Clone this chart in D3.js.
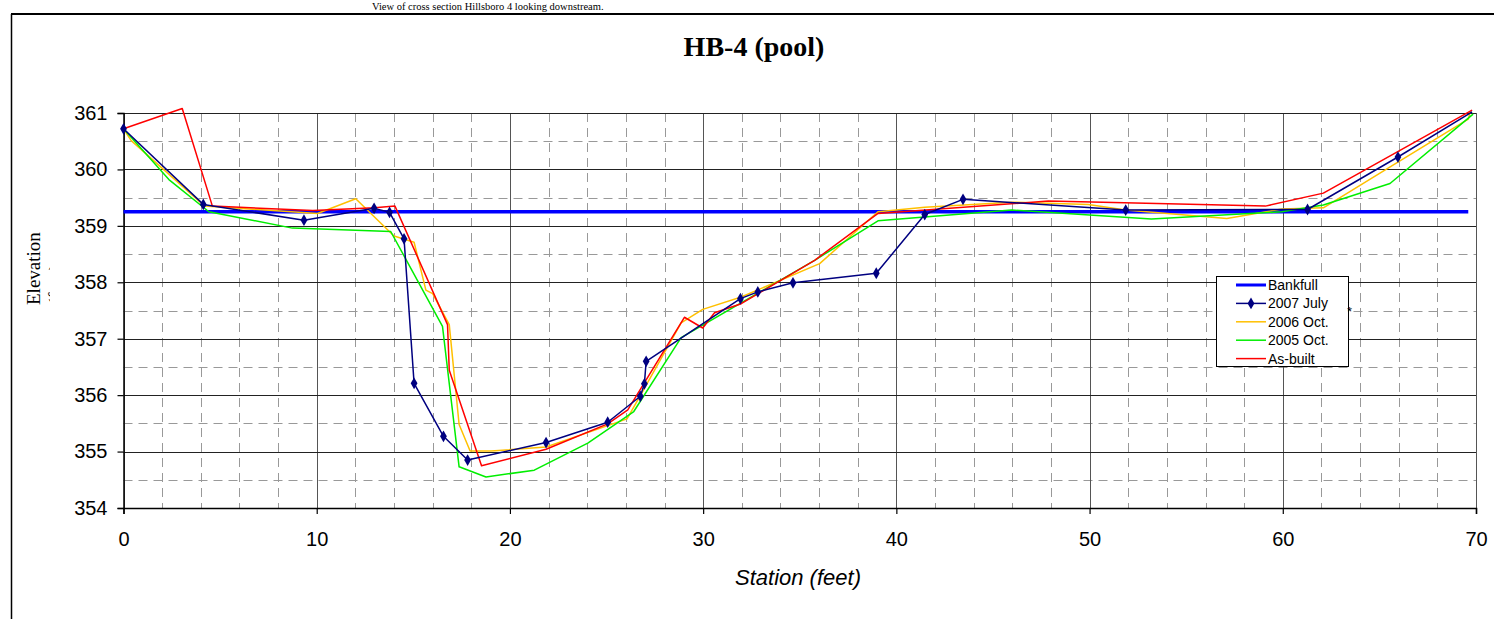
<!DOCTYPE html>
<html><head><meta charset="utf-8">
<script src="https://cdn.jsdelivr.net/npm/d3@7"></script>
<style>body{margin:0;background:#fff;}svg{display:block;}</style>
</head><body>
<script>
// ---- data ----
const title = "HB-4 (pool)";
const caption = "View of cross section Hillsboro 4 looking downstream.";
const xLabel = "Station (feet)";
const yLabel1 = "Elevation";
const yLabel2 = "(feet)";
const xTicks = [0, 10, 20, 30, 40, 50, 60, 70];
const yTicks = [354, 355, 356, 357, 358, 359, 360, 361];
const seriesNames = ["Bankfull", "2007 July", "2006 Oct.", "2005 Oct.", "As-built"];

const bankfull = [[0, 359.25], [69.6, 359.25]];
const july2007 = [
  [0, 360.72], [4.13, 359.38], [9.34, 359.10], [12.97, 359.31], [13.77, 359.24],
  [14.52, 358.77], [15.04, 356.21], [16.56, 355.27], [17.81, 354.85], [21.87, 355.16],
  [25.06, 355.52], [26.75, 355.98], [26.96, 356.20], [27.05, 356.60], [31.93, 357.71],
  [32.83, 357.83], [34.65, 357.99], [38.96, 358.16], [41.47, 359.20], [43.45, 359.47],
  [51.87, 359.28], [61.28, 359.29], [65.96, 360.22], [69.8, 361.02]
];
const oct2006 = [
  [0, 360.72], [0.4, 360.51], [4.2, 359.35], [10.04, 359.22], [12.02, 359.48],
  [14.0, 358.82], [15.04, 358.71], [15.65, 357.86], [16.0, 357.80], [16.86, 357.25],
  [17.37, 355.48], [17.94, 355.01], [19.02, 355.01], [21.87, 355.08], [25.06, 355.46],
  [26.06, 355.58], [26.79, 356.02], [28.86, 357.28], [29.98, 357.52], [31.97, 357.74],
  [36.03, 358.33], [39.05, 359.25], [41.47, 359.33], [45.96, 359.42], [49.93, 359.38],
  [51.87, 359.28], [57.1, 359.13], [59.95, 359.30], [62.1, 359.32], [66.0, 360.14],
  [69.6, 360.89], [69.7, 361.02]
];
const oct2005 = [
  [0, 360.72], [2.35, 359.82], [4.42, 359.25], [8.74, 358.96], [13.83, 358.90],
  [16.51, 357.22], [17.37, 354.73], [18.76, 354.55], [21.26, 354.67], [24.03, 355.15],
  [26.41, 355.71], [28.86, 357.02], [35.77, 358.39], [39.05, 359.09], [45.96, 359.28],
  [53.2, 359.12], [59.95, 359.25], [62.1, 359.37], [65.55, 359.75], [69.85, 360.98]
];
const asBuilt = [
  [0, 360.72], [3.04, 361.08], [4.6, 359.35], [9.8, 359.27], [13.0, 359.32],
  [14.05, 359.35], [16.77, 357.25], [16.86, 356.44], [18.53, 354.75], [21.87, 355.04],
  [25.06, 355.49], [26.1, 355.74], [29.03, 357.38], [29.98, 357.19], [30.59, 357.46],
  [31.97, 357.62], [35.77, 358.39], [39.05, 359.22], [47.86, 359.44], [59.1, 359.35],
  [62.1, 359.58], [69.8, 361.05]
];

// ---- layout ----
const W = 1494, H = 619;
const svg = d3.select("body").append("svg").attr("width", W).attr("height", H);

const x = d3.scaleLinear().domain([0, 70]).range([123.5, 1476]);
const y = d3.scaleLinear().domain([354, 361]).range([508, 113]);

// caption
svg.append("text").attr("x", 372).attr("y", 10)
  .attr("font-family", "Liberation Serif, Times New Roman, serif").attr("font-size", 10.5)
  .attr("fill", "#000").text(caption);

// outer frame
svg.append("line").attr("x1", 11).attr("x2", W).attr("y1", 14).attr("y2", 14)
  .attr("stroke", "#000").attr("stroke-width", 2);
svg.append("line").attr("x1", 11.5).attr("x2", 11.5).attr("y1", 14).attr("y2", H)
  .attr("stroke", "#000").attr("stroke-width", 1.5);

// title
svg.append("text").attr("x", 754).attr("y", 56).attr("text-anchor", "middle")
  .attr("font-family", "Liberation Serif, Times New Roman, serif").attr("font-weight", "bold")
  .attr("font-size", 28).text(title);

// grid: minor dashed
const g = svg.append("g");
const minorX = d3.range(2, 70, 2).filter(v => v % 10 !== 0);
const minorY = d3.range(354.5, 361, 1);
g.selectAll(".mx").data(minorX).join("line")
  .attr("x1", d => Math.round(x(d)) + 0.5).attr("x2", d => Math.round(x(d)) + 0.5)
  .attr("y1", y(361)).attr("y2", y(354))
  .attr("stroke", "#999").attr("stroke-width", 1).attr("stroke-dasharray", "9,6");
g.selectAll(".my").data(minorY).join("line")
  .attr("x1", x(0)).attr("x2", x(70))
  .attr("y1", d => Math.round(y(d)) + 0.5).attr("y2", d => Math.round(y(d)) + 0.5)
  .attr("stroke", "#999").attr("stroke-width", 1).attr("stroke-dasharray", "9,6");
// grid: major solid
g.selectAll(".Mx").data(xTicks).join("line")
  .attr("x1", d => Math.round(x(d)) + 0.5).attr("x2", d => Math.round(x(d)) + 0.5)
  .attr("y1", y(361)).attr("y2", y(354))
  .attr("stroke", "#555").attr("stroke-width", 1);
g.selectAll(".My").data(yTicks).join("line")
  .attr("x1", x(0)).attr("x2", x(70))
  .attr("y1", d => Math.round(y(d)) + 0.5).attr("y2", d => Math.round(y(d)) + 0.5)
  .attr("stroke", "#222").attr("stroke-width", 1);

// axes
const xAxis = d3.axisBottom(x).tickValues(xTicks).tickSize(6).tickPadding(18).tickFormat(d3.format("d"));
const yAxis = d3.axisLeft(y).tickValues(yTicks).tickSize(6).tickPadding(10).tickFormat(d3.format("d"));
const xa = svg.append("g").attr("transform", `translate(0,${y(354)})`).call(xAxis);
const ya = svg.append("g").attr("transform", `translate(${x(0)},0)`).call(yAxis);
[xa, ya].forEach(a => {
  a.select(".domain").attr("stroke", "#000").attr("stroke-width", 1.5);
  a.selectAll(".tick line").attr("stroke", "#000").attr("stroke-width", 1.2);
  a.selectAll("text").attr("font-family", "Liberation Sans, Arial, sans-serif")
    .attr("font-size", 20).attr("fill", "#000");
});

// axis labels
svg.append("text").attr("x", 798).attr("y", 585).attr("text-anchor", "middle")
  .attr("font-family", "Liberation Sans, Arial, sans-serif").attr("font-style", "italic")
  .attr("font-size", 22).text(xLabel);
svg.append("defs").append("clipPath").attr("id", "ylc")
  .append("rect").attr("x", 0).attr("y", 0).attr("width", 50).attr("height", H);
const yl = svg.append("g").attr("clip-path", "url(#ylc)");
yl.append("text").attr("transform", "translate(40,305) rotate(-90)").attr("text-anchor", "start")
  .attr("font-family", "Liberation Serif, Times New Roman, serif").attr("font-size", 19).text(yLabel1);
yl.append("text").attr("transform", "translate(62,305) rotate(-90)").attr("text-anchor", "start")
  .attr("font-family", "Liberation Serif, Times New Roman, serif").attr("font-size", 19).text(yLabel2);

// series
const line = d3.line().x(d => x(d[0])).y(d => y(d[1]));
const series = [
  { name: seriesNames[0], data: bankfull, color: "#0000FF", width: 3.5, marker: false },
  { name: seriesNames[1], data: july2007, color: "#000080", width: 1.5, marker: true },
  { name: seriesNames[2], data: oct2006, color: "#FFC000", width: 1.5, marker: false },
  { name: seriesNames[3], data: oct2005, color: "#00EE00", width: 1.5, marker: false },
  { name: seriesNames[4], data: asBuilt, color: "#FF0000", width: 1.5, marker: false }
];
const diamond = d3.symbol().type(d3.symbolDiamond).size(40);
const drawOrder = [0, 2, 3, 4, 1];
drawOrder.forEach(i => {
  const s = series[i];
  svg.append("path").datum(s.data).attr("d", line).attr("fill", "none")
    .attr("stroke", s.color).attr("stroke-width", s.width).attr("stroke-linejoin", "round");
  if (s.marker) {
    svg.selectAll(null).data(s.data.slice(0, -1)).join("path")
      .attr("d", diamond).attr("transform", d => `translate(${x(d[0])},${y(d[1])})`)
      .attr("fill", s.color);
  }
});

// legend
const lg = svg.append("g");
lg.append("rect").attr("x", 1216.5).attr("y", 276.5).attr("width", 132).attr("height", 90)
  .attr("fill", "#fff").attr("stroke", "#000").attr("stroke-width", 1);
series.forEach((s, i) => {
  const yy = 285 + i * 18.4;
  lg.append("line").attr("x1", 1236).attr("x2", 1266).attr("y1", yy).attr("y2", yy)
    .attr("stroke", s.color).attr("stroke-width", i === 0 ? 3 : 1.5);
  if (s.marker) lg.append("path").attr("d", diamond).attr("transform", `translate(1251,${yy})`).attr("fill", s.color);
  lg.append("text").attr("x", 1268).attr("y", yy + 5)
    .attr("font-family", "Liberation Sans, Arial, sans-serif").attr("font-size", 14).text(s.name);
});
svg.append("text").attr("x", 1347).attr("y", 316)
  .attr("font-family", "Liberation Sans, Arial, sans-serif").attr("font-size", 13).text("*");
</script>
</body></html>
